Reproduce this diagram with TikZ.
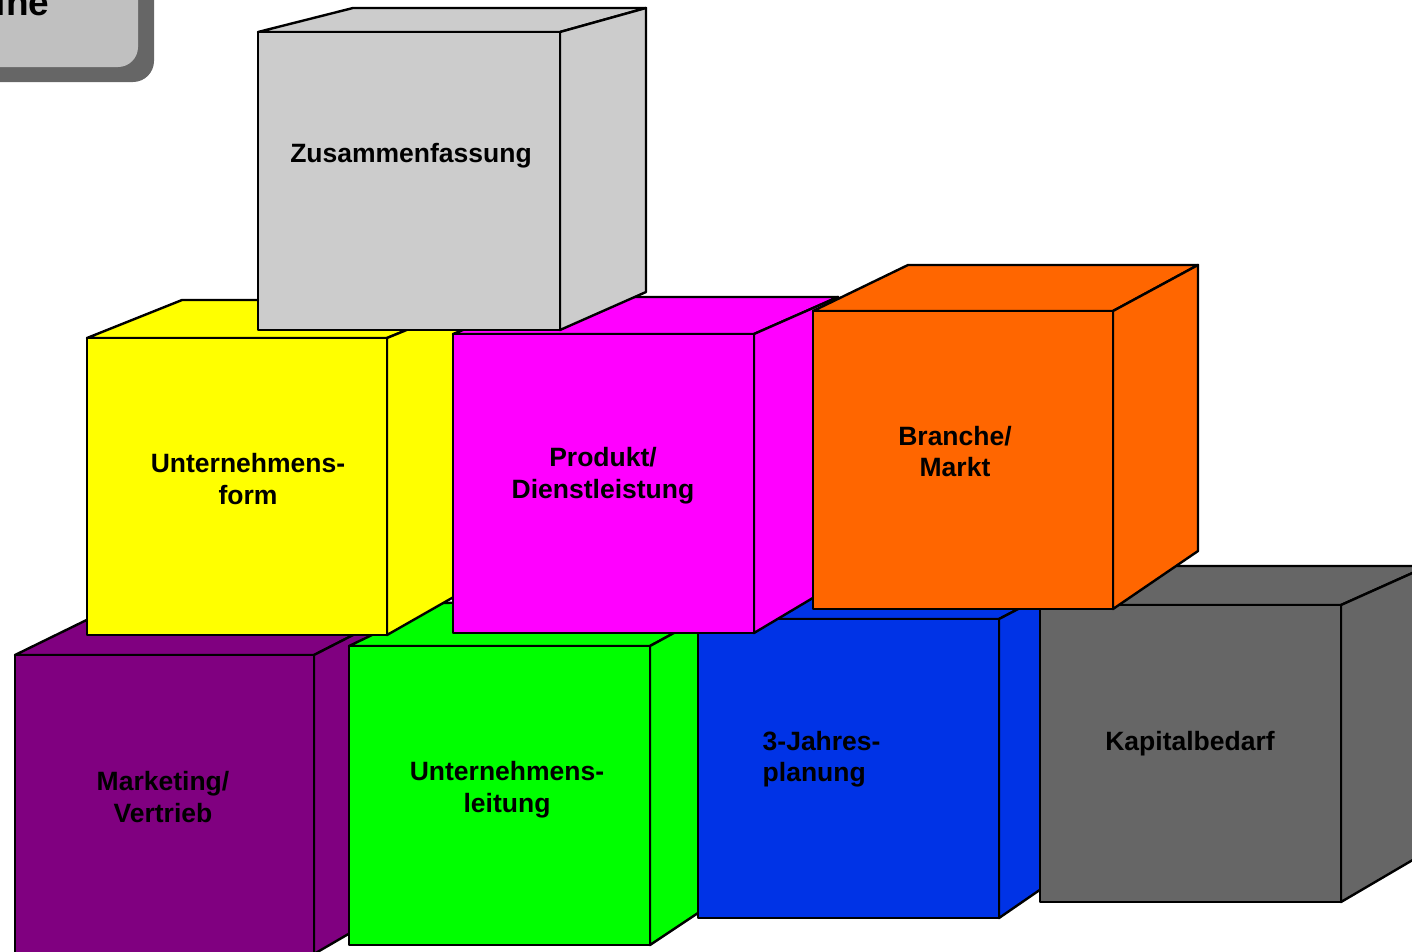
\documentclass[tikz,border=0pt]{standalone}
\usepackage{fontspec}
\setmainfont{Liberation Sans}
\definecolor{cPurple}{HTML}{800080}
\definecolor{cGreen}{HTML}{00FF00}
\definecolor{cBlue}{HTML}{0033E6}
\definecolor{cKap}{HTML}{666666}
\definecolor{cYellow}{HTML}{FFFF00}
\definecolor{cMag}{HTML}{FF00FF}
\definecolor{cOrange}{HTML}{FF6600}
\definecolor{cZus}{HTML}{CCCCCC}
\definecolor{cBoxLight}{HTML}{C0C0C0}
\definecolor{cBoxDark}{HTML}{666666}
\tikzset{
  face/.style={draw=black, line width=2.4pt, line join=round},
  lab/.style={font=\bfseries\fontsize{26.5}{31.5}\selectfont, align=center, inner sep=0pt, anchor=base, text=black},
}
% #1 name, #2 colour, #3 front top-left, #4 front bottom-right, #5 back top-left, #6 back top-right, #7 back bottom-right
\newcommand\cubeshape[7]{%
  \coordinate (#1ftl) at (#3);
  \coordinate (#1fbr) at (#4);
  \coordinate (#1ftr) at (#1ftl -| #1fbr);
  \coordinate (#1btl) at (#5);
  \coordinate (#1btr) at (#6);
  \coordinate (#1bbr) at (#7);
  \filldraw[face, fill=#2] (#1ftl) -- (#1btl) -- (#1btr) -- (#1ftr) -- cycle;
  \filldraw[face, fill=#2] (#1ftr) -- (#1btr) -- (#1bbr) -- (#1fbr) -- cycle;
  \filldraw[face, fill=#2] (#1ftl) rectangle (#1fbr);
}
\begin{document}
\begin{tikzpicture}[x=1pt, y=-1pt]
\useasboundingbox (0,0) rectangle (1412,951);
\clip (0,0) rectangle (1412,951);
% title box (cut off at top-left)
\fill[cBoxDark, rounded corners=21pt] (-100,-100) rectangle (154,82);
\fill[cBoxLight, rounded corners=20pt] (-100,-100) rectangle (138,67);
\node[anchor=base west, inner sep=0pt, font=\bfseries\fontsize{37}{40}\selectfont] (title) at (-4.4,15) {ine};
% bottom row
\cubeshape{P}{cPurple}{15,655}{314,954}{105,611}{400,611}{400,904}
\cubeshape{G}{cGreen}{349,646}{650,945}{439,603}{740,597}{740,885}
\cubeshape{B}{cBlue}{698,619}{999,918}{788,576}{1089,572}{1089,856}
\cubeshape{K}{cKap}{1040,605}{1341,902}{1120,566}{1428,566}{1428,851}
% middle row
\cubeshape{Y}{cYellow}{87,338}{387,635}{182,300}{480,300}{480,582}
\cubeshape{M}{cMag}{453,334}{754,633}{545,297}{838,297}{838,583}
\cubeshape{O}{cOrange}{813,311}{1113,609}{908,265}{1198,265}{1198,551}
% top
\cubeshape{Z}{cZus}{258,32}{560,330}{353,8}{646,8}{646,292}
% labels (anchor base = baseline of the last line)
\node[lab] (tZ) at (411,162) {Zusammenfassung};
\node[lab] (tY) at (248,504) {Unternehmens-\\form};
\node[lab] (tM) at (603,498) {Produkt/\\Dienstleistung};
\node[lab] (tO) at (955,476.5) {Branche/\\Markt};
\node[lab] (tP) at (163,822) {Marketing/\\Vertrieb};
\node[lab] (tG) at (507,812) {Unternehmens-\\leitung};
\node[lab, align=left, anchor=base west] (tB) at (762.5,781.5) {3-Jahres-\\planung};
\node[lab] (tK) at (1190,750) {Kapitalbedarf};
\end{tikzpicture}
\end{document}
